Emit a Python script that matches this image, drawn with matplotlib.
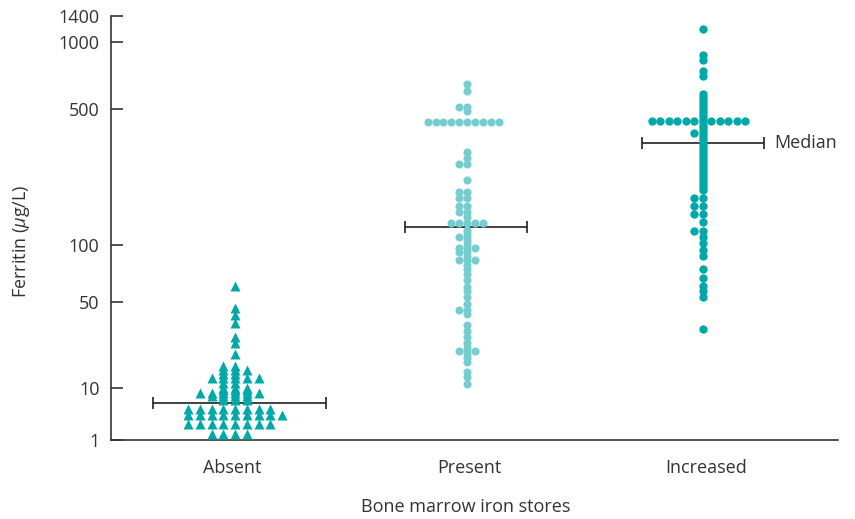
import numpy as np
import matplotlib
matplotlib.use("Agg")
from matplotlib import pyplot as plt
from matplotlib.ticker import NullLocator

plt.rcParams['font.family'] = ['Open Sans', 'DejaVu Sans']
plt.rcParams['mathtext.fontset'] = 'custom'
plt.rcParams['mathtext.it'] = 'Open Sans:italic'

# datos (ferritina ug/L)
groups = ["Absent", "Present", "Increased"]

absent = [61, 45, 39, 34, 26, 23, 19,
          15, 15, 14, 14, 14, 13, 13, 12, 12, 12, 12, 12, 11, 11,
          10, 10, 10, 9, 9, 9, 8, 8, 8, 8, 8, 8, 7, 7, 7, 7, 6, 6, 6,
          4, 4, 4, 4, 4, 4, 4, 4,
          3, 3, 3, 3, 3, 3, 3, 3, 3,
          2, 2, 2, 2, 2, 2, 2, 2,
          1.3, 1.3, 1.3, 1.3]

present = [650, 600, 510, 510, 490,
           430, 430, 430, 430, 430, 430, 430, 430, 430, 430,
           300, 280, 260, 260, 215, 188, 188, 174, 174, 158, 158, 148, 148, 140,
           130, 130, 130, 130, 130, 120, 115, 110, 110, 105, 100, 97, 97, 97,
           92, 92, 88, 83, 83, 83, 78, 75, 70, 65, 60, 57, 53, 48, 43, 43, 40,
           32.5, 29, 26, 23.3, 21, 20, 20, 20, 19, 17.4, 16.2, 13.6, 12.2, 10.8]

increased = [1180, 870, 830, 740, 700,
             584, 566, 549, 532, 516, 500, 483, 466, 450,
             435, 435, 435, 435, 435, 435, 435, 435, 435, 435, 435, 435,
             419, 404, 390, 377, 377, 363, 351, 338, 326, 315, 304, 294, 283,
             273, 264, 255, 246, 237, 229, 221, 213, 206, 199, 192,
             174, 174, 158, 158, 144, 144, 132, 118, 118, 110, 102, 94, 87,
             75, 67, 61, 57, 53, 30]

medians = [5.1, 124, 336]

tick_vals = [1, 10, 50, 100, 500, 1000, 1400]
tick_labels = ["1", "10", "50", "100", "500", "1000", "1400"]

# escala del eje y (no es log puro, va por tramos entre las marcas)
tick_h = [0, 52, 138, 195, 331, 398, 424]
lv = np.concatenate([[-3], np.log10(tick_vals), [5]])
hv = np.concatenate([[-156], tick_h, [424 + (5 - np.log10(1400)) * 178]])


def fwd(v):
    v = np.clip(np.asarray(v, float), 1e-3, 1e5)
    return np.interp(np.log10(v), lv, hv)


def inv(h):
    return 10 ** np.interp(np.asarray(h, float), hv, lv)


def swarm(values, spacing):
    # valores iguales se reparten en columnas alrededor del centro
    vals = np.asarray(values, float)
    offs = np.zeros(len(vals))
    for v in np.unique(vals):
        idx = np.where(vals == v)[0]
        for k, i in enumerate(idx):
            sgn = -1 if k % 2 else 1
            offs[i] = sgn * ((k + 1) // 2) * spacing
    return offs


teal = "#00a9a8"
light = "#76cdd0"
txt = "#333333"
fs = 13

fig = plt.figure(figsize=(8.55, 5.19), dpi=100)
ax = fig.add_axes([0.1295, 0.1522, 0.8506, 0.8170])
ax.set_yscale('function', functions=(fwd, inv))

data = [absent, present, increased]
spacing = [0.0494, 0.0333, 0.0359]
markers = ['^', 'o', 'o']
msizes = [7.4, 5.8, 6.0]
colors = [teal, light, teal]
half_w = [0.365, 0.257, 0.257]
dot_shift = [0.013, -0.008, -0.013]
bar_shift = [0.032, -0.012, -0.013]

for i in range(3):
    x = i + dot_shift[i] + swarm(data[i], spacing[i])
    ax.plot(x, data[i], linestyle='none', marker=markers[i], ms=msizes[i],
            color=colors[i], mec='none', zorder=3)
    # mediana
    c = i + bar_shift[i]
    ax.plot([c - half_w[i], c + half_w[i]], [medians[i], medians[i]],
            color=txt, lw=1.3, zorder=2)
    ax.plot([c - half_w[i], c + half_w[i]], [medians[i], medians[i]],
            linestyle='none', marker='|', ms=9, mew=1.3, color=txt, zorder=2)

ax.text(2 + bar_shift[2] + half_w[2] + 0.045, medians[2], "Median", fontsize=fs,
        color=txt, va='center', ha='left')

ax.set_ylim(1, 1400)
ax.set_xlim(-0.512, 2.557)
ax.set_yticks(tick_vals)
ax.set_yticklabels(tick_labels)
ax.yaxis.set_minor_locator(NullLocator())
ax.set_xticks([0, 1, 2])
ax.set_xticklabels(groups)

ax.tick_params(axis='y', direction='in', length=8.6, width=1.2, color=txt,
               labelsize=fs, labelcolor=txt, pad=8)
ax.tick_params(axis='x', length=0, labelsize=fs, labelcolor=txt, pad=14)

for s in ['top', 'right']:
    ax.spines[s].set_visible(False)
for s in ['left', 'bottom']:
    ax.spines[s].set_color(txt)
    ax.spines[s].set_linewidth(1.2)

ax.set_xlabel("Bone marrow iron stores", fontsize=fs, color=txt)
ax.xaxis.set_label_coords(0.4885, -0.136)
fig.text(22 / 855, 1 - 241 / 519, r"Ferritin ($\mathit{\mu}$g/L)", fontsize=fs,
         color=txt, rotation=90, ha='center', va='center')

fig.savefig("out.png", dpi=100)
